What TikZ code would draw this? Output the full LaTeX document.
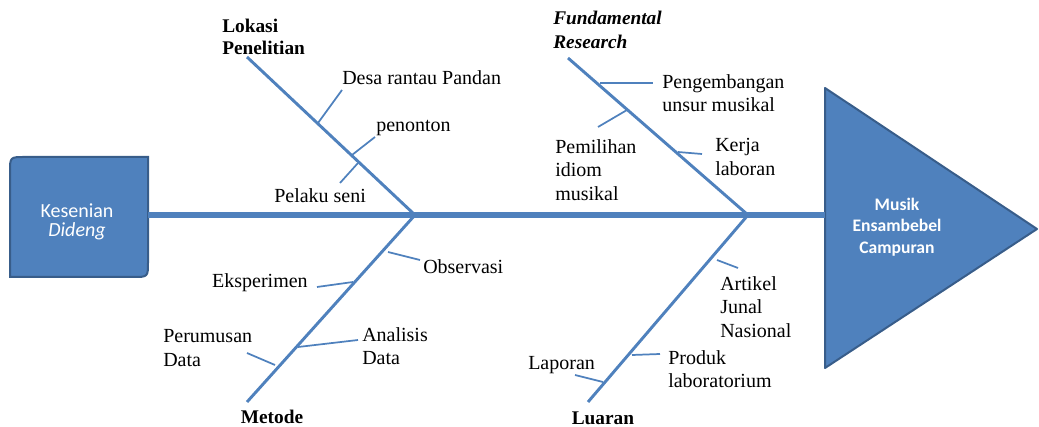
\documentclass[tikz,border=0pt]{standalone}
\usepackage{fontspec}
\setmainfont{Liberation Serif}
\newfontfamily\calibri{Carlito}
\definecolor{fishblue}{HTML}{4F81BD}
\definecolor{fishedge}{HTML}{385D8A}

\begin{document}
\begin{tikzpicture}[x=0.75pt,y=-0.75pt,
  spine/.style={fishblue,line width=3.8pt},
  bone/.style={fishblue,line width=2.2pt},
  twig/.style={fishblue,line width=1.3pt},
  lbl/.style={inner sep=0pt,align=left,font=\fontsize{15}{17.5}\selectfont},
  headlbl/.style={inner sep=0pt,align=left,font=\fontsize{14.5}{16}\selectfont\bfseries},
  shapetxt/.style={text=white,align=center,inner sep=0pt}]
  \useasboundingbox (0,0) rectangle (1039,427);

  % head and tail
  \draw[fishedge,line width=1.5pt,fill=fishblue]
    (10,277) -- (10,172) .. controls (10,157) .. (25,157) -- (148,157)
    -- (148,262) .. controls (148,277) .. (133,277) -- cycle;
  \draw[fishedge,line width=1.5pt,fill=fishblue,line join=round]
    (825,88) -- (1037,229) -- (825,368) -- cycle;

  % spine
  \coordinate (boxR) at (148,215);
  \coordinate (triL) at (825,215);
  \coordinate (J1) at (415,215);
  \coordinate (J2) at (748,215);
  \draw[spine] (boxR) -- (triL);

  % bones
  \coordinate (lokasiT) at (247,57);
  \coordinate (metodeB) at (247,402);
  \coordinate (fundT) at (568,58);
  \coordinate (luaranB) at (588,402);
  \draw[bone] (J1) -- (lokasiT);
  \draw[bone] (J1) -- (metodeB);
  \draw[bone] (J2) -- (fundT);
  \draw[bone] (J2) -- (luaranB);

  \node[headlbl,anchor=west] (lokasi) at (222,37) {Lokasi\\Penelitian};
  \node[headlbl] (metode) at (272,417) {Metode};
  \node[headlbl,anchor=west,font=\fontsize{14.5}{18.5}\selectfont\bfseries\itshape] (fund) at (553,30) {Fundamental\\Research};
  \node[headlbl] (luaran) at (603,418) {Luaran};

  % Lokasi Penelitian
  \coordinate (desaA) at (318,123);
  \coordinate (desaB) at (342,90);
  \coordinate (penA) at (352,155);
  \coordinate (penB) at (375,137);
  \coordinate (pelA) at (358,163);
  \coordinate (pelB) at (340,183);
  \draw[twig] (desaA) -- (desaB);
  \draw[twig] (penA) -- (penB);
  \draw[twig] (pelA) -- (pelB);
  \node[lbl,anchor=west] (desa) at (342,78) {Desa rantau Pandan};
  \node[lbl,anchor=west] (penonton) at (376,128) {penonton};
  \node[lbl,anchor=west] (pelaku) at (274,196) {Pelaku seni};

  % Metode
  \coordinate (obsA) at (388,252);
  \coordinate (obsB) at (420,260);
  \coordinate (eksA) at (353,282);
  \coordinate (eksB) at (317,287);
  \coordinate (anaA) at (298,347);
  \coordinate (anaB) at (358,340);
  \coordinate (perA) at (275,365);
  \coordinate (perB) at (247,353);
  \draw[twig] (obsA) -- (obsB);
  \draw[twig] (eksA) -- (eksB);
  \draw[twig] (anaA) -- (anaB);
  \draw[twig] (perA) -- (perB);
  \node[lbl,anchor=west] (observasi) at (423,267) {Observasi};
  \node[lbl,anchor=east] (eksperimen) at (308,283) {Eksperimen};
  \node[lbl,anchor=west] (analisis) at (362,346) {Analisis\\Data};
  \node[lbl,anchor=west] (perumusan) at (163,348) {Perumusan\\Data};

  % Fundamental Research
  \coordinate (pengA) at (600,83);
  \coordinate (pengB) at (653,83);
  \coordinate (pemA) at (627,110);
  \coordinate (pemB) at (598,127);
  \coordinate (kerA) at (678,152);
  \coordinate (kerB) at (702,154);
  \draw[twig] (pengA) -- (pengB);
  \draw[twig] (pemA) -- (pemB);
  \draw[twig] (kerA) -- (kerB);
  \node[lbl,anchor=west] (pengembangan) at (662,93) {Pengembangan\\unsur musikal};
  \node[lbl,anchor=west] (pemilihan) at (555,170) {Pemilihan\\idiom\\musikal};
  \node[lbl,anchor=west] (kerja) at (715,157) {Kerja\\laboran};

  % Luaran
  \coordinate (artA) at (717,260);
  \coordinate (artB) at (738,268);
  \coordinate (proA) at (632,355);
  \coordinate (proB) at (660,354);
  \coordinate (lapA) at (603,382);
  \coordinate (lapB) at (575,375);
  \draw[twig] (artA) -- (artB);
  \draw[twig] (proA) -- (proB);
  \draw[twig] (lapA) -- (lapB);
  \node[lbl,anchor=west] (artikel) at (720,307) {Artikel\\Junal\\Nasional};
  \node[lbl,anchor=west] (produk) at (668,369) {Produk\\laboratorium};
  \node[lbl,anchor=west] (laporan) at (528,365) {Laporan};

  % texts in head and tail
  \node[shapetxt,font=\calibri\fontsize{15}{14.5}\selectfont] (kesenian) at (77,222) {Kesenian\\\textit{Dideng}};
  \node[shapetxt,font=\calibri\fontsize{13.2}{16.2}\selectfont\bfseries] (musik) at (897,227) {Musik\\Ensambebel\\Campuran};
\end{tikzpicture}
\end{document}
